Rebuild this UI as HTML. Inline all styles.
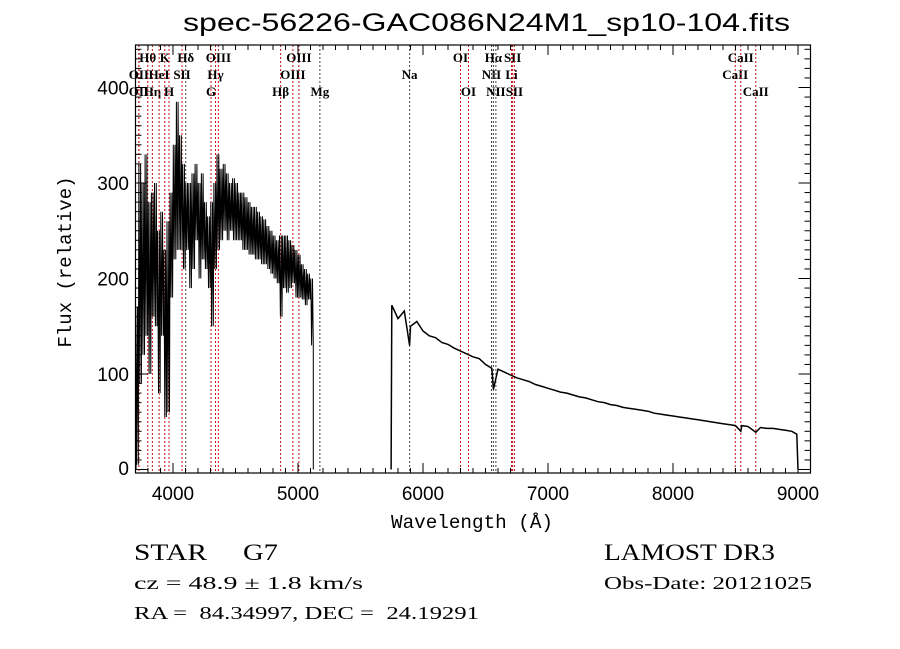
<!DOCTYPE html>
<html><head><meta charset="utf-8">
<style>
html,body{margin:0;padding:0;background:#fff;}
svg{display:block;}
.ser{font-family:"Liberation Serif",serif;}
.san{font-family:"Liberation Sans",sans-serif;}
.mono{font-family:"Liberation Mono",monospace;}
text{white-space:pre;}
</style></head>
<body>
<svg id="chart" width="900" height="649" viewBox="0 0 900 649" xmlns="http://www.w3.org/2000/svg" xml:space="preserve">
<rect width="900" height="649" fill="#fff"/>
<text class="san" x="183" y="31" font-size="25" textLength="607" lengthAdjust="spacingAndGlyphs">spec-56226-GAC086N24M1_sp10-104.fits</text>
<g id="lines"></g>
<g id="spec"></g>
<g id="axes"></g>
<text class="mono" x="391" y="528" font-size="19" textLength="162" lengthAdjust="spacingAndGlyphs">Wavelength (Å)</text>
<text class="mono" x="0" y="0" font-size="19" text-anchor="middle" transform="translate(71,262) rotate(-90)">Flux (relative)</text>
<text class="ser" x="134" y="560" font-size="23" textLength="73" lengthAdjust="spacingAndGlyphs">STAR</text>
<text class="ser" x="243" y="560" font-size="23" textLength="35" lengthAdjust="spacingAndGlyphs">G7</text>
<text class="ser" x="134" y="589" font-size="18" textLength="229" lengthAdjust="spacingAndGlyphs">cz = 48.9 ± 1.8 km/s</text>
<text class="ser" x="134" y="619" font-size="18" textLength="345" lengthAdjust="spacingAndGlyphs">RA =  84.34997, DEC =  24.19291</text>
<text class="ser" x="604" y="560" font-size="23" textLength="171" lengthAdjust="spacingAndGlyphs">LAMOST DR3</text>
<text class="ser" x="604" y="589" font-size="18" textLength="208" lengthAdjust="spacingAndGlyphs">Obs-Date: 20121025</text>
</svg>
<script>
// ---- data ----
const blueWave = [3712,3737,3762,3787,3812,3837,3862,3887,3912,3937,3962,3987,4012,4037,4062,4087,4112,4137,4162,4187,4212,4237,4262,4287,4312,4337,4362,4387,4412,4437,4462,4487,4512,4537,4562,4587,4612,4637,4662,4687,4712,4737,4762,4787,4812,4837,4862,4887,4912,4937,4962,4987,5012,5037,5062,5087,5112];
const blueHigh = [170,320,300,330,280,290,300,250,270,230,260,290,340,385,350,320,300,300,310,320,300,310,280,265,280,300,330,315,320,310,300,305,300,290,290,285,280,275,275,270,265,262,255,250,245,240,245,245,245,240,235,230,225,215,210,205,200];
const blueLow  = [5,90,120,140,100,160,150,80,140,55,60,180,220,230,230,210,230,190,210,240,200,220,210,190,150,210,230,240,250,240,250,240,240,240,230,230,225,225,220,220,215,215,210,205,200,195,160,190,185,190,195,180,180,178,172,178,130];
const redWave = [5750,5800,5850,5893,5900,5950,6000,6050,6100,6150,6200,6250,6300,6350,6400,6450,6500,6550,6563,6600,6650,6700,6750,6800,6850,6900,6950,7000,7050,7100,7150,7200,7250,7300,7350,7400,7450,7500,7550,7600,7650,7700,7750,7800,7850,7900,7950,8000,8050,8100,8150,8200,8250,8300,8350,8400,8450,8500,8542,8550,8600,8662,8700,8750,8800,8850,8900,8950,8990];
const redFlux = [172,158,166,130,150,155,145,140,138,133,131,127,124,121,118,116,110,106,84,105,102,99,96,94,92,89,87,85,83,81,80,78,76,75,73,71,70,68,67,65,64,63,62,61,59,58,57,56,55,54,53,52,51,50,49,48,47,46,40,46,45,39,44,43,43,42,41,40,37];
const lineWave = [3727,3727,3798,3835,3889,3934,3968,4072,4102,4304,4340,4363,4861,4959,5007,5175,5893,6300,6364,6548,6563,6583,6708,6717,6731,8498,8542,8662];
const lineLabel = ["OII","OII","Hθ","Hη","HeI","K","H","SII","Hδ","G","Hγ","OIII","Hβ","OIII","OIII","Mg","Na","OI","OI","NII","Hα","NII","Li","SII","SII","CaII","CaII","CaII"];
const lineRow = [2,3,1,3,2,1,3,2,1,3,2,1,3,2,1,3,2,1,3,2,1,3,2,1,3,2,1,3];
const lineDark = [0,0,0,0,0,0,0,0,1,0,0,0,0,0,0,1,1,0,0,1,1,1,0,0,0,0,0,0];
const xTicks = [4000,5000,6000,7000,8000,9000];
const yTicks = [0,100,200,300,400];

// ---- scales ----
const X0=135.5, X1=810.5, W0=3700, W1=9100;
const Y0=473, YT=45;
function sx(w){return X0+(w-W0)*(X1-X0)/(W1-W0);}
function sy(v){return 469.5-v*0.955;}
const NS="http://www.w3.org/2000/svg";
function mk(tag,attrs,parent){const e=document.createElementNS(NS,tag);for(const k in attrs)e.setAttribute(k,attrs[k]);parent.appendChild(e);return e;}

// ---- lines ----
const gl=document.getElementById('lines');
const rowY={1:62,2:79,3:96};
lineWave.forEach((w,i)=>{
  const x=sx(w);
  const l=mk('line',{x1:x,x2:x,y1:YT,y2:Y0,stroke:lineDark[i]?'#444':'#c81414','stroke-width':1,'stroke-dasharray':'2,2'},gl);
  
  
  const t=mk('text',{x:x,y:rowY[lineRow[i]],'font-size':13,'text-anchor':'middle',class:'ser','font-weight':'bold'},gl);
  t.textContent=lineLabel[i];
  
  
});

// ---- spectrum ----
const gs=document.getElementById('spec');
let pts=[[sx(3705),sy(0)]];
blueWave.forEach((w,i)=>{
  const h=blueHigh[i],lo=blueLow[i];
  pts.push([sx(w-10),sy(h)]);
  pts.push([sx(w-3),sy(lo)]);
  pts.push([sx(w+4),sy(h)]);
  pts.push([sx(w+10),sy(lo)]);
});
pts.push([sx(5122),sy(0)]);
const pb=mk('polyline',{points:pts.map(p=>p[0].toFixed(1)+','+p[1].toFixed(1)).join(' '),fill:'none',stroke:'#000','stroke-width':1},gs);


let rp=[[sx(5745),sy(0)]];
redWave.forEach((w,i)=>{rp.push([sx(w),sy(redFlux[i])]);});
rp.push([sx(9000),sy(0)]);
const pr=mk('polyline',{points:rp.map(p=>p[0].toFixed(1)+','+p[1].toFixed(1)).join(' '),fill:'none',stroke:'#000','stroke-width':1.5},gs);



// ---- axes ----
const ga=document.getElementById('axes');
const fr=mk('rect',{x:X0,y:YT,width:X1-X0,height:Y0-YT,fill:'none',stroke:'#000','stroke-width':1.2},ga);


for(let w=3700;w<=9100;w+=100){
  const x=sx(w),maj=(w%1000===0),len=maj?10:5;
  mk('line',{x1:x,x2:x,y1:Y0,y2:Y0-len,stroke:'#000'},ga);
  mk('line',{x1:x,x2:x,y1:YT,y2:YT+len,stroke:'#000'},ga);
}
for(let v=0;v<=440;v+=10){
  const y=sy(v),maj=(v%100===0),len=maj?12:6;
  if(y<YT||y>Y0)continue;
  mk('line',{x1:X0,x2:X0+len,y1:y,y2:y,stroke:'#000'},ga);
  mk('line',{x1:X1,x2:X1-len,y1:y,y2:y,stroke:'#000'},ga);
}
xTicks.forEach(w=>{
  const t=mk('text',{x:sx(w),y:500,'font-size':19,'text-anchor':'middle',class:'san'},ga);
  t.textContent=w;
  
  
});
yTicks.forEach(v=>{
  const t=mk('text',{x:129,y:Math.min(sy(v)+7,475),'font-size':19,'text-anchor':'end',class:'san'},ga);
  t.textContent=v;
  
  
});
</script>
</body></html>
